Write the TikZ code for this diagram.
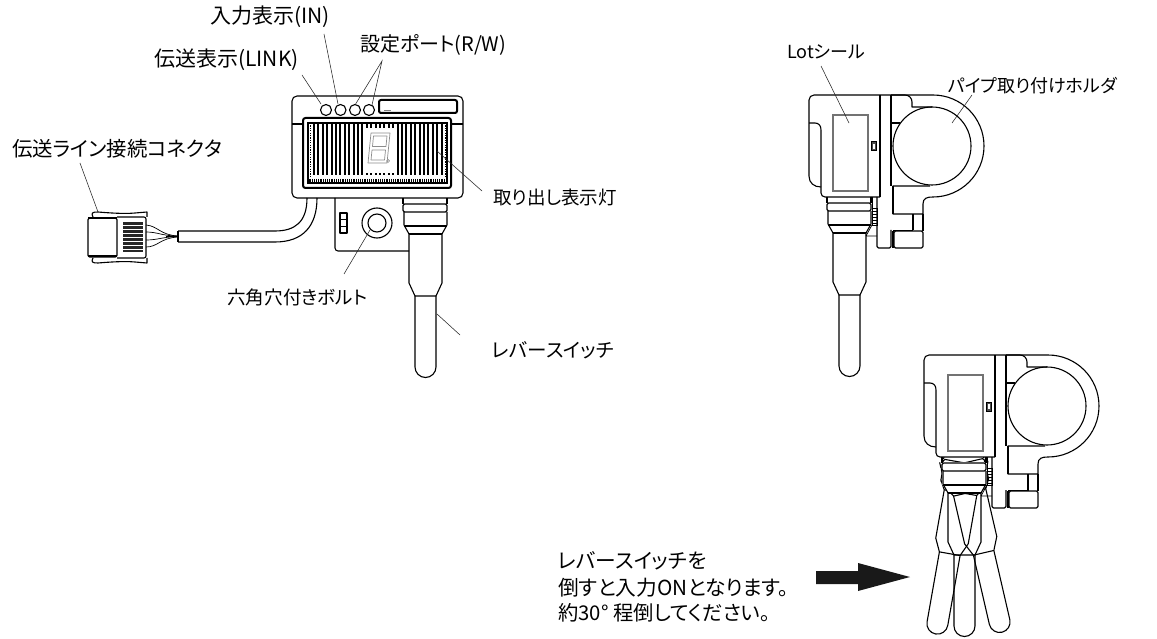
\documentclass[tikz,border=0pt]{standalone}
\usepackage{fontspec}
\setmainfont{Noto Sans CJK JP}[RawFeature=+palt]
\newcommand{\fsz}[1]{\fontsize{#1}{#1}\selectfont}
\tikzset{
  ln/.style={line width=1.1pt,black,line join=round},
  fine/.style={line width=0.7pt,black},
  lead/.style={line width=0.55pt,black!85},
  lab/.style={inner sep=0pt,anchor=west,text=black},
  lotbox/.style={line width=1.1pt,black!55},
  seg/.style={line width=0.7pt,black!45}
}
\newcommand{\leverdraw}{%
  \draw[ln] (827,197) -- (827,203) (871,197) -- (871,203);
  \draw[ln,rounded corners=1.5pt] (827,203) rectangle (871,211);
  \draw[ln] (828,211) -- (828,224) -- (833,233) -- (833,282) -- (839,295) -- (860,295) -- (866,282) -- (866,233) -- (871,224) -- (871,211);
  \draw[ln] (828,225) -- (871,225) (833,233) -- (866,233);
  \draw[ln] (839,295) -- (839,366) arc[start angle=180,end angle=0,radius=10.5] -- (860,295);
}
\newcommand{\sidebody}{%
  \draw[ln] (809,100) arc[start angle=180,end angle=270,radius=5] -- (933,95)
     arc[start angle=-90,end angle=90,radius=51]
     .. controls (927,197) and (923,198) .. (923,204) -- (923,214) -- (893,214) -- (893,186) -- (930,186);
  \draw[ln] (809,100) -- (809,176) .. controls (809,183) and (814,187) .. (821,187);
  \draw[ln] (809,123) -- (815,123) .. controls (819,123) and (821,126) .. (821,130) -- (821,193)
     arc[start angle=180,end angle=90,radius=4] -- (880,197);
  \draw[lotbox] (833,115) rectangle (868,191);
  \draw[line width=1pt,fill=black!70] (871.5,142) rectangle (876.5,151);
  \fill[white] (873,144) rectangle (875,149);
  \draw[ln] (880,95) -- (880,197) (891,95) -- (891,186);
  \draw[ln] (891,95) -- (905,95) arc[start angle=-90,end angle=0,radius=7] -- (912,107) -- (932,107);
  \draw[ln] (891,123) -- (900,123);
  \draw[ln] (932,146) circle[radius=39];
  % lower bracket
  \draw[ln,rounded corners=1.5pt] (877,197) -- (877,248) -- (891,248) -- (891,230);
  \draw[ln] (893,230.5) -- (913,230.5) (913,214) -- (913,230.5);
  \draw[ln,rounded corners=1.5pt] (894,231) rectangle (923,248);
  \draw[ln] (923,214) -- (923,231);
  \draw[line width=1.4pt] (893,186) -- (893,214) (892.8,231) -- (892.8,248);
  % screw between lever and bracket
  \draw[fine] (872,208) rectangle (877,225);
  \foreach \yy in {211,214,217,220,223}{\draw[fine] (872,\yy) -- (877,\yy);}
  \draw[fine] (872,197) -- (872,208);
  \draw[fine] (866,236) -- (877,236) (866,236) -- (872,225);
}
\begin{document}
\begin{tikzpicture}[x=1pt,y=-1pt]
\useasboundingbox (0,0) rectangle (1157,639);
\fill[white] (0,0) rectangle (1157,639);

%%% ---------- front view ----------
% cable
\draw[ln] (178,231) -- (275,231) .. controls (295,231) and (307,222) .. (307,198);
\draw[ln] (178,242) -- (275,242) .. controls (303,242) and (317,226) .. (317,198);
\draw[ln] (178,231) -- (178,242);
% wires
\draw[fine] (146,225) .. controls (158,226) and (160,235) .. (178,236);
\draw[fine] (146,232) .. controls (158,232) and (162,236) .. (178,236);
\draw[fine] (146,240) .. controls (158,240) and (162,237) .. (178,236.5);
\draw[fine] (146,247) .. controls (158,247) and (160,238) .. (178,237);
\draw[line width=1.6pt] (166,236.5) -- (178,236.5);
% connector
\draw[ln,rounded corners=1.5pt] (88,218) rectangle (117,257);
\draw[line width=2pt] (88,218.5) -- (117,218.5) (88,256.5) -- (117,256.5);
\draw[ln,rounded corners=2pt] (117,217) -- (146,217) -- (146,258) -- (117,258);
\fill[black!85] (123,222) rectangle (143,252);
\foreach \yy in {225,229,233,237,241,245,249}{\draw[white,line width=0.7pt] (123,\yy) -- (143,\yy);}
\draw[ln] (93,217) .. controls (91,213) and (92,212) .. (98,212) .. controls (110,213) and (125,214) .. (135,213) -- (147,212) -- (147,217);
\draw[ln] (93,258) .. controls (91,262) and (92,263) .. (98,263) .. controls (110,262) and (125,261) .. (135,262) -- (147,263) -- (147,258);
% main housing
\draw[ln,rounded corners=5pt] (292,96) rectangle (463,198);
\draw[line width=2pt,rounded corners=2.5pt] (303,118) rectangle (451,188);
\draw[ln] (292,124) -- (303,124) (451,124) -- (463,124);
\foreach \xx in {326,340.5,355,369}{\draw[ln] (\xx,110) circle[radius=5.5];}
\draw[line width=2pt,rounded corners=2pt] (379,100) rectangle (457,113);
\draw[fine,black!50] (384,110) -- (391,110);
% display: stripes
\draw[line width=1.3pt] (308,123) rectangle (447,183);
\foreach \xx in {314,318.4,...,444}{\draw[line width=1.9pt] (\xx,123) -- (\xx,175);}
\foreach \xx in {310,312.2,...,446}{\draw[line width=1.1pt] (\xx,179) -- (\xx,183);}
\draw[line width=1.5pt,dash pattern=on 1.2pt off 1.2pt] (310.5,123) -- (310.5,176);
\draw[line width=1.5pt,dash pattern=on 1.2pt off 1.2pt] (445.5,123) -- (445.5,176);
\fill[white] (363,128) rectangle (397,173);
% seven segment digit
\draw[seg,line join=round] (371,133) -- (390,133) -- (387,163) -- (368,163) -- cycle;
\draw[seg,line join=round] (373.5,136) -- (387,136) -- (386,146.5) -- (372.5,146.5) -- cycle;
\draw[seg,line join=round] (372,150) -- (385.5,150) -- (384.5,160) -- (371,160) -- cycle;
\draw[seg] (388,161) circle[radius=1.5];
% bracket
\draw[ln,rounded corners=3pt] (335,198) -- (335,251) -- (409,251);
\draw[ln] (340,213) rectangle (347,233);
\draw[fine] (340,219.5) -- (347,219.5) (340,226.5) -- (347,226.5);
\draw[ln] (377,223) circle[radius=15];
\draw[ln] (377,223) circle[radius=9];
% front lever
\begin{scope}[shift={(-424,1)}]
  \leverdraw
\end{scope}

%%% ---------- side views ----------
\sidebody
\leverdraw
% tilted levers, behind the upright one
\begin{scope}
  \clip (880,457) -- (991,457) -- (991,509) -- (1100,509) -- (1100,639) -- (880,639) -- cycle;
  \begin{scope}[shift={(115,260)},rotate around={-10:(849.5,210)}]
    \leverdraw
  \end{scope}
  \begin{scope}[shift={(115,260)},rotate around={13:(849.5,210)}]
    \leverdraw
  \end{scope}
\end{scope}
\fill[white] (942,462) -- (987,462) -- (987,484) -- (981,493) -- (948,493) -- (942,484) -- cycle;
\begin{scope}[shift={(115,260)}]
  \sidebody
  \leverdraw
\end{scope}

% big arrow
\fill[black!90] (816,571) -- (858,571) -- (858,563) -- (910,577) -- (858,591) -- (858,584) -- (816,584) -- cycle;

%%% ---------- labels ----------
\node[lab,font=\fsz{21}] (lin) at (210,17) {入力表示(IN)};
\node[lab,font=\fsz{21}] (llink) at (154,60) {伝送表示(LINK)};
\node[lab,font=\fsz{20}] (lport) at (360,45) {設定ポート(R/W)};
\node[lab,font=\fsz{20.4}] (lconn) at (12,149) {伝送ライン接続コネクタ};
\node[lab,font=\fsz{18.5}] (llamp) at (493,197) {取り出し表示灯};
\node[lab,font=\fsz{18.6}] (lbolt) at (227,297) {六角穴付きボルト};
\node[lab,font=\fsz{19.5}] (lsw) at (492,350) {レバースイッチ};
\node[lab,font=\fsz{18}] (llot) at (787,52) {Lotシール};
\node[lab,font=\fsz{18}] (lpipe) at (948,86) {パイプ取り付けホルダ};
\node[lab,font=\fsz{20.7}] (ln1) at (558,561) {レバースイッチを};
\node[lab,font=\fsz{20.7}] (ln2) at (558,588) {倒すと入力ONとなります。};
\node[lab,font=\fsz{20.3}] (ln3) at (558,613) {約30° 程倒してください。};

%%% ---------- leaders ----------
\coordinate (a1) at (302,75);  \coordinate (a2) at (321,104);
\coordinate (b1) at (324,34);  \coordinate (b2) at (338,104);
\coordinate (c1) at (382,61);  \coordinate (c2) at (355,105); \coordinate (c3) at (372,105);
\coordinate (d1) at (80,163);  \coordinate (d2) at (98,212);
\coordinate (e1) at (437,151); \coordinate (e2) at (482,191);
\coordinate (f1) at (344,274); \coordinate (f2) at (370,230);
\coordinate (g1) at (437,314); \coordinate (g2) at (460,335);
\coordinate (h1) at (821,66);  \coordinate (h2) at (849,123);
\coordinate (i1) at (972,95);  \coordinate (i2) at (952,123);
\draw[lead] (a1) -- (a2);
\draw[lead] (b1) -- (b2);
\draw[lead] (c2) -- (c1) -- (c3);
\draw[lead] (d1) -- (d2);
\draw[lead] (e1) -- (e2);
\draw[lead] (f1) -- (f2);
\draw[lead] (g1) -- (g2);
\draw[lead] (h1) -- (h2);
\draw[lead] (i1) -- (i2);
\end{tikzpicture}
\end{document}
